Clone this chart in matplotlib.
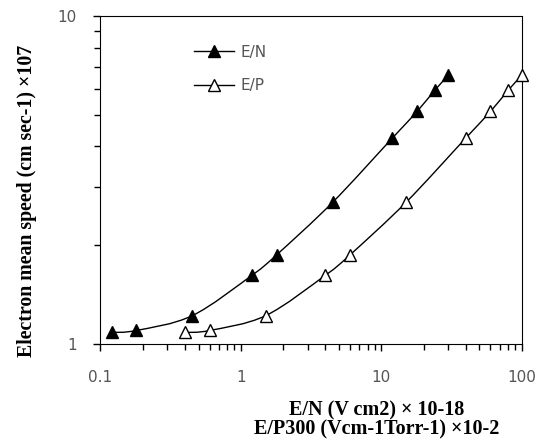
import numpy as np
import matplotlib.pyplot as plt
from matplotlib.path import Path
from matplotlib.patches import PathPatch
from matplotlib.lines import Line2D
from matplotlib.ticker import LogLocator, NullFormatter, FixedLocator, FixedFormatter

# values
en_x = [0.12, 0.18, 0.45, 1.2, 1.8, 4.5, 12, 18, 24, 30]
ep_x = [0.4, 0.6, 1.5, 4, 6, 15, 40, 60, 80, 100]
speed = [1.085, 1.10, 1.22, 1.62, 1.87, 2.70, 4.24, 5.11, 5.92, 6.58]


def smooth_path(xs, ys):
    # catmull-rom style bezier through the points, built in log space
    lx, ly = np.log10(xs), np.log10(ys)
    n = len(lx)
    verts = [(xs[0], ys[0])]
    codes = [Path.MOVETO]
    for i in range(n - 1):
        p0 = max(i - 1, 0)
        p3 = min(i + 2, n - 1)
        c1 = (lx[i] + (lx[i + 1] - lx[p0]) / 6, ly[i] + (ly[i + 1] - ly[p0]) / 6)
        c2 = (lx[i + 1] - (lx[p3] - lx[i]) / 6, ly[i + 1] - (ly[p3] - ly[i]) / 6)
        verts += [(10 ** c1[0], 10 ** c1[1]), (10 ** c2[0], 10 ** c2[1]), (xs[i + 1], ys[i + 1])]
        codes += [Path.CURVE4] * 3
    return Path(verts, codes)


fig = plt.figure(figsize=(5.4, 4.48), dpi=100)
ax = fig.add_axes([0.186, 0.232, 0.780, 0.733])

for xs, fc in [(en_x, "black"), (ep_x, "white")]:
    ax.add_patch(PathPatch(smooth_path(xs, speed), fill=False, ec="black", lw=1.0))
    ax.plot(xs, speed, ls="none", marker="^", ms=8, mfc=fc, mec="black",
            mew=1.0, clip_on=False, zorder=3)

ax.set_xscale("log")
ax.set_yscale("log")
ax.set_xlim(0.1, 100)
ax.set_ylim(1, 10)

ax.xaxis.set_major_locator(FixedLocator([0.1, 1, 10, 100]))
ax.xaxis.set_major_formatter(FixedFormatter(["0.1", "1", "10", "100"]))
ax.xaxis.set_minor_locator(LogLocator(base=10, subs=np.arange(2, 10)))
ax.xaxis.set_minor_formatter(NullFormatter())
ax.yaxis.set_major_locator(FixedLocator([1, 10]))
ax.yaxis.set_major_formatter(FixedFormatter(["1", "10"]))
ax.yaxis.set_minor_locator(LogLocator(base=10, subs=np.arange(2, 10)))
ax.yaxis.set_minor_formatter(NullFormatter())

ax.tick_params(which="major", direction="out", length=5, width=1,
               labelsize=11, labelcolor="#555555", pad=12)
ax.tick_params(which="minor", direction="out", length=4, width=1)
ax.tick_params(axis="x", which="major", pad=14)
ax.spines["right"].set_linestyle((0, (1, 1)))
ax.spines["left"].set_linestyle((0, (1, 1)))

fig.text(0.05, 0.551, "Electron mean speed (cm sec-1) \u00d7107", rotation=90,
         ha="center", va="center", family="Liberation Serif",
         fontweight="bold", fontsize=14.3)
fig.text(0.697, 0.0625, "E/N (V cm2) \u00d7 10-18\nE/P300 (Vcm-1Torr-1) \u00d710-2",
         ha="center", va="center", family="Liberation Serif",
         fontweight="bold", fontsize=14.5, linespacing=0.95)

handles = [
    Line2D([], [], color="black", lw=1.0, marker="^", ms=8, mfc="black", mec="black"),
    Line2D([], [], color="black", lw=1.0, marker="^", ms=8, mfc="white", mec="black"),
]
leg = ax.legend(handles, ["E/N", "E/P"], loc="upper left", bbox_to_anchor=(0.222, 0.912),
                frameon=False, borderaxespad=0, borderpad=0, handlelength=2.6,
                fontsize=11, labelspacing=1.2, handletextpad=0.45)
for t in leg.get_texts():
    t.set_color("#555555")

fig.savefig("out.png", dpi=100)
